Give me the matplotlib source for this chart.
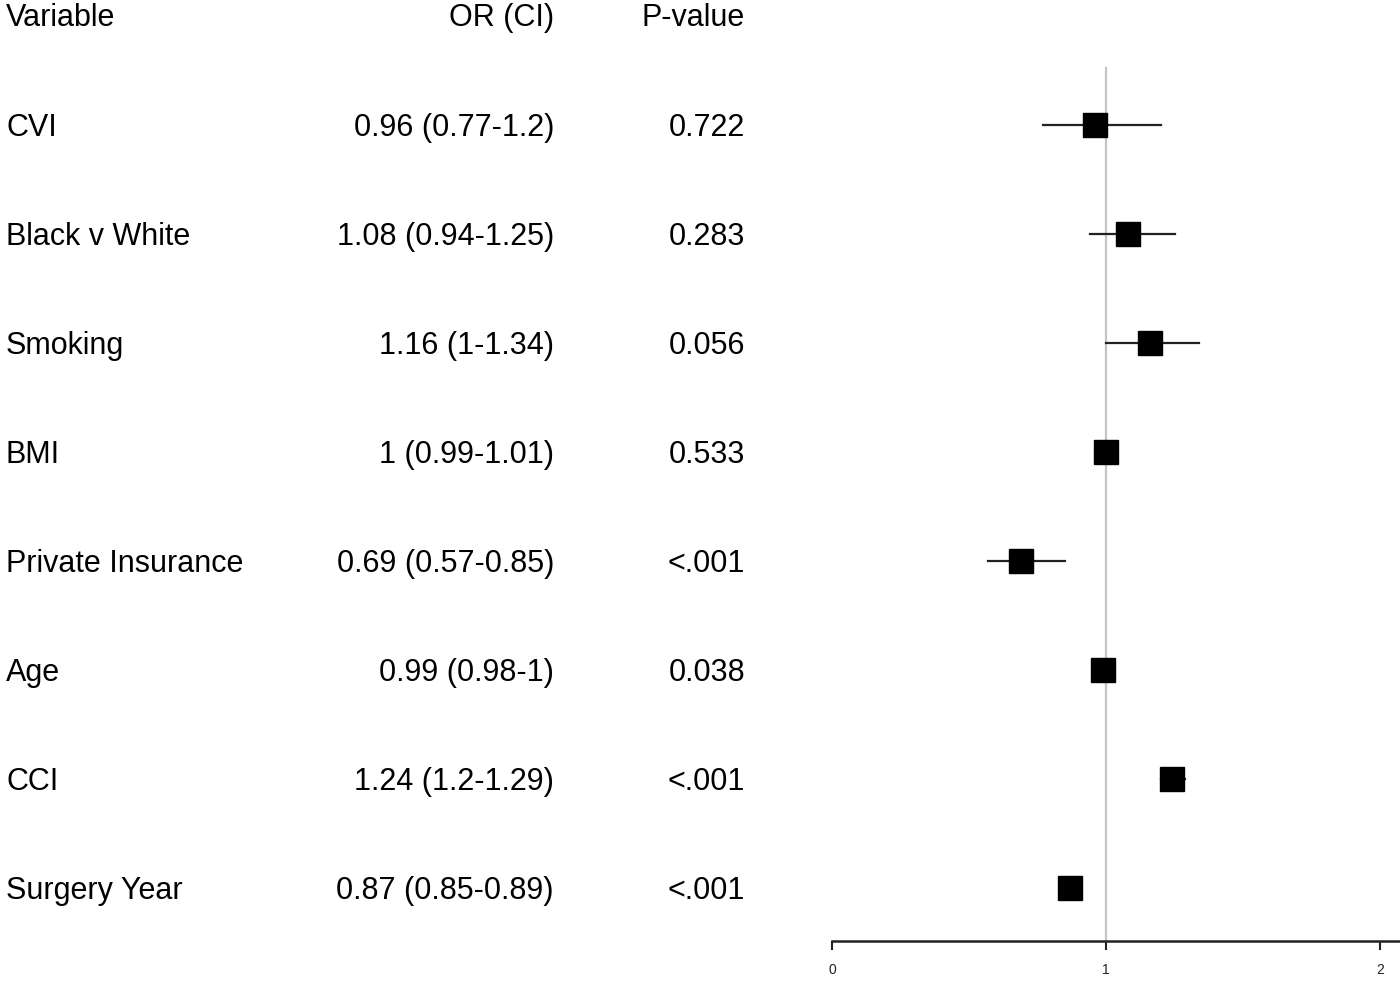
"""
Forest plot of odds ratios with a text table on the left.
"""

import matplotlib
matplotlib.use("Agg")
import matplotlib.pyplot as plt
from matplotlib.transforms import blended_transform_factory

# data
variables = ["CVI", "Black v White", "Smoking", "BMI", "Private Insurance",
             "Age", "CCI", "Surgery Year"]
odds_ratio = [0.96, 1.08, 1.16, 1.00, 0.69, 0.99, 1.24, 0.87]
ci_low = [0.77, 0.94, 1.00, 0.99, 0.57, 0.98, 1.20, 0.85]
ci_high = [1.20, 1.25, 1.34, 1.01, 0.85, 1.00, 1.29, 0.89]
or_text = ["0.96 (0.77-1.2)", "1.08 (0.94-1.25)", "1.16 (1-1.34)",
           "1 (0.99-1.01)", "0.69 (0.57-0.85)", "0.99 (0.98-1)",
           "1.24 (1.2-1.29)", "0.87 (0.85-0.89)"]
p_text = ["0.722", "0.283", "0.056", "0.533", "<.001", "0.038", "<.001", "<.001"]
headers = ["Variable", "OR (CI)", "P-value"]
x_ticks = [0, 1, 2]

W, H = 1400, 982
fig = plt.figure(figsize=(W / 100, H / 100), dpi=100)
plt.rcParams['font.family'] = ['Liberation Sans', 'DejaVu Sans']

# plot panel: x=0 at px 832, x=1 at px 1106
ax = fig.add_axes([832 / W, 1 - 941 / H, 1 - 832 / W, 941 / H])
ax.set_xlim(0, 568 / 274)
ax.set_ylim(7.486, -1.147)

rows = list(range(len(variables)))

# reference line at OR = 1
ax.plot([1, 1], [-0.523, 7.486], color='#c4c4c4', lw=1.6, zorder=1)

# confidence intervals and point estimates
for i in rows:
    ax.plot([ci_low[i], ci_high[i]], [i, i], color='#222222', lw=1.6, zorder=2)
ax.plot(odds_ratio, rows, 's', color='black', markersize=17, zorder=3)

for side in ['top', 'right', 'left']:
    ax.spines[side].set_visible(False)
ax.spines['bottom'].set_linewidth(1.8)
ax.spines['bottom'].set_color('#222222')
ax.set_yticks([])
ax.set_xticks(x_ticks)
ax.set_xticklabels([str(t) for t in x_ticks])
ax.tick_params(axis='x', direction='out', length=6.5, width=1.5,
               color='#222222', labelsize=10, labelcolor='#222222', pad=9)
ax.patch.set_visible(False)

# text table
tr = blended_transform_factory(fig.transFigure, ax.transData)
fs = 22
ax.text(6 / W, -0.98, headers[0], transform=tr, ha='left', va='center', fontsize=fs)
ax.text(554 / W, -0.98, headers[1], transform=tr, ha='right', va='center', fontsize=fs)
ax.text(745 / W, -0.98, headers[2], transform=tr, ha='right', va='center', fontsize=fs)
for i in rows:
    y = i + 0.03
    ax.text(6 / W, y, variables[i], transform=tr, ha='left', va='center', fontsize=fs)
    ax.text(554 / W, y, or_text[i], transform=tr, ha='right', va='center', fontsize=fs)
    ax.text(745 / W, y, p_text[i], transform=tr, ha='right', va='center', fontsize=fs)

fig.savefig("out.png", dpi=100)
